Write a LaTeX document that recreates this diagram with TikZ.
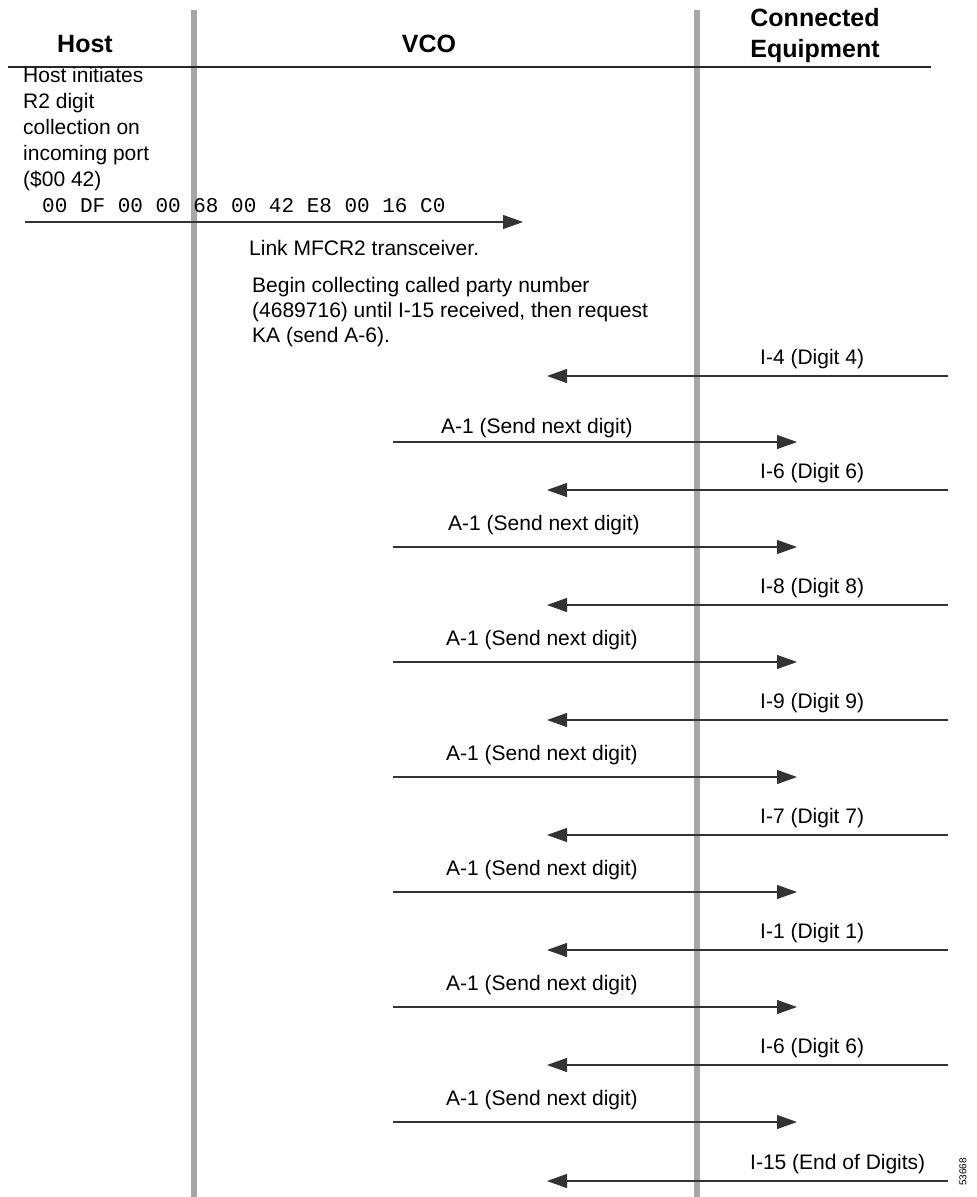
\documentclass[tikz,border=0pt]{standalone}
\usepackage{fontspec}
\setmainfont{Liberation Sans}
\setmonofont{Liberation Mono}
\usetikzlibrary{arrows.meta}
\tikzset{
  lifeline/.style={line width=6pt, draw=black!35},
  msg/.style={line width=1.1pt, draw=black!80, -{Triangle[length=20pt,width=14pt]}},
  lbl/.style={anchor=base west, inner sep=0pt, font=\fontsize{21}{26}\selectfont},
  head/.style={anchor=base, inner sep=0pt, font=\fontsize{25}{31}\selectfont\bfseries},
}
\begin{document}
\begin{tikzpicture}[x=1pt,y=-1pt]
  \useasboundingbox (0,0) rectangle (977,1197);
  % lifelines
  \draw [lifeline] (194,10) -- (194,1197);
  \draw [lifeline] (697,10) -- (697,1197);
  \draw [line width=1.5pt, black!85] (8,67) -- (931,67);
  % column heads
  \node [head] (host) at (85,52) {Host};
  \node [head] (vco) at (429,52) {VCO};
  \node [head] (conn) at (815,26) {Connected};
  \node [head] (equip) at (815,57) {Equipment};
  % host command (base = last line)
  \node [lbl, align=left] (init) at (23,186) {Host initiates\\R2 digit\\collection on\\incoming port\\(\$00 42)};
  \node [lbl, font=\ttfamily\fontsize{21}{26}\selectfont] (hex) at (42,212) {00 DF 00 00 68 00 42 E8 00 16 C0};
  \coordinate (cmds) at (25,222);
  \coordinate (cmde) at (523,222);
  \draw [msg] (cmds) -- (cmde);
  \node [lbl] (link) at (249,255) {Link MFCR2 transceiver.};
  \node [lbl, align=left, font=\fontsize{21}{25}\selectfont] (begin) at (252,342) {Begin collecting called party number\\(4689716) until I-15 received, then request\\KA (send A-6).};
  % digits from connected equipment
  \foreach \y/\x/\txt [count=\i] in {376/760/I-4 (Digit 4), 490/760/I-6 (Digit 6), 605/760/I-8 (Digit 8),
      720/760/I-9 (Digit 9), 835/760/I-7 (Digit 7), 950/760/I-1 (Digit 1),
      1065/760/I-6 (Digit 6), 1181/750/I-15 (End of Digits)} {
    \coordinate (in\i s) at (948,\y);
    \coordinate (in\i e) at (547,\y);
    \draw [msg] (in\i s) -- (in\i e);
    \node [lbl] (inl\i) at (\x,\y-12) {\txt};
  }
  % A-1 replies from VCO
  \foreach \y/\b/\x [count=\i] in {442/9/441, 547/17/448, 662/17/446, 777/17/446,
      892/17/446, 1007/17/446, 1122/17/446} {
    \coordinate (out\i s) at (393,\y);
    \coordinate (out\i e) at (797,\y);
    \draw [msg] (out\i s) -- (out\i e);
    \node [lbl] (outl\i) at (\x,\y-\b) {A-1 (Send next digit)};
  }
  \node [rotate=90, inner sep=0pt, font=\fontsize{10}{12}\selectfont] (fig) at (963,1172) {53668};
\end{tikzpicture}
\end{document}
